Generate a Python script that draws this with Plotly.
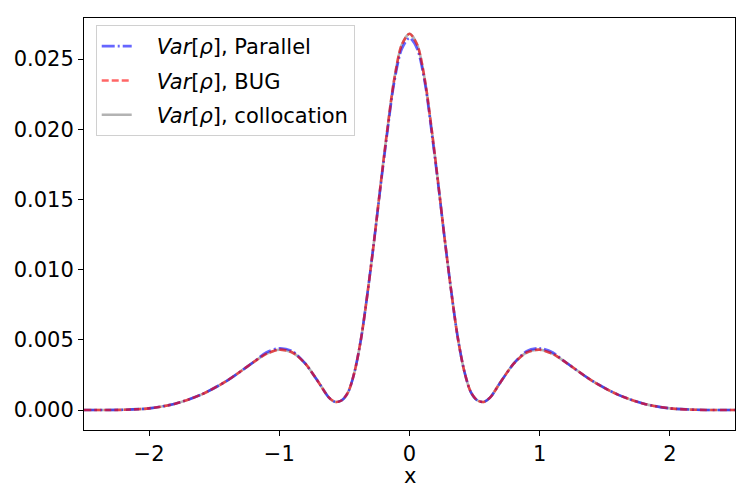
"""Variance of rho: Parallel vs BUG vs collocation."""

import plotly.graph_objects as go

x = [-2.5, -2.2, -2.0, -1.8, -1.6, -1.4, -1.2, -1.1, -1.0, -0.9, -0.8, -0.7,
     -0.62, -0.57, -0.52, -0.47, -0.42, -0.37, -0.32, -0.27, -0.22, -0.17, -0.12, -0.06,
     0.0,
     0.06, 0.12, 0.17, 0.22, 0.27, 0.32, 0.37, 0.42, 0.47, 0.52, 0.57,
     0.62, 0.7, 0.8, 0.9, 1.0, 1.1, 1.2, 1.4, 1.6, 1.8, 2.0, 2.2, 2.5]

var_collocation = [0.0, 0.00002, 0.00012, 0.00045, 0.0011, 0.0021, 0.0034, 0.0040, 0.0043, 0.0041,
                   0.0033, 0.0020, 0.0009, 0.00058, 0.0007, 0.0013, 0.0028, 0.0052, 0.0085, 0.0122,
                   0.0162, 0.0200, 0.0234, 0.0260,
                   0.0268,
                   0.0260, 0.0234, 0.0200, 0.0162, 0.0122, 0.0085, 0.0052, 0.0028, 0.0013, 0.0007,
                   0.00058, 0.0009, 0.0020, 0.0033, 0.0041, 0.0043, 0.0040, 0.0034, 0.0021, 0.0011,
                   0.00045, 0.00012, 0.00002, 0.0]

var_bug = list(var_collocation)

var_parallel = [0.0, 0.00002, 0.00012, 0.00045, 0.0011, 0.0021, 0.0034, 0.0041, 0.0044, 0.0042,
                0.0033, 0.0020, 0.0009, 0.00058, 0.0007, 0.0013, 0.0028, 0.0052, 0.0085, 0.0122,
                0.0161, 0.0198, 0.0232, 0.0257,
                0.0265,
                0.0257, 0.0232, 0.0198, 0.0161, 0.0122, 0.0085, 0.0052, 0.0028, 0.0013, 0.0007,
                0.00058, 0.0009, 0.0020, 0.0033, 0.0042, 0.0044, 0.0041, 0.0034, 0.0021, 0.0011,
                0.00045, 0.00012, 0.00002, 0.0]

y_ticks = [0.0, 0.005, 0.01, 0.015, 0.02, 0.025]
x_ticks = [-2, -1, 0, 1, 2]

label = "\u00a0\u00a0\u00a0<i>Var</i>[<i>ρ</i>], "
FONT = 21

fig = go.Figure()
fig.add_trace(go.Scatter(
    x=x, y=var_collocation, mode="lines", name=label + "collocation",
    line=dict(color="rgba(128,128,128,0.6)", width=2.6, shape="spline", smoothing=0.8),
    legendrank=3, legendgroup="c",
))
fig.add_trace(go.Scatter(
    x=x, y=var_parallel, mode="lines", name=label + "Parallel",
    line=dict(color="rgba(0,0,255,0.6)", width=2.6, dash="13px,3px,2px,3px",
              shape="spline", smoothing=0.8),
    legendrank=1, legendgroup="p",
))
fig.add_trace(go.Scatter(
    x=x, y=var_bug, mode="lines", name=label + "BUG",
    line=dict(color="rgba(255,0,0,0.6)", width=2.6, dash="7px,3px",
              shape="spline", smoothing=0.8),
    legendrank=2, legendgroup="b",
))

axis_style = dict(
    showline=True, linecolor="black", linewidth=1, mirror=True, automargin=False,
    ticks="outside", ticklen=5, tickcolor="black", showgrid=False, zeroline=False,
    tickfont=dict(family="DejaVu Sans", size=FONT, color="black"),
)

# page renders with an 8px body offset, so shrink the figure to fit the window
fig.update_layout(
    width=742, height=492,
    margin=dict(l=76, r=15, t=10, b=70),
    plot_bgcolor="white", paper_bgcolor="white",
    font=dict(family="DejaVu Sans", size=FONT, color="black"),
    xaxis=dict(range=[-2.5, 2.5], tickvals=x_ticks, ticktext=["−2", "−1", "0", "1", "2"],
               **axis_style),
    yaxis=dict(range=[-0.00142, 0.02792], tickvals=y_ticks, tickformat=".3f", **axis_style),
    legend=dict(x=0.018, y=0.983, xanchor="left", yanchor="top",
                bordercolor="#d0d0d0", borderwidth=1, bgcolor="rgba(255,255,255,0.8)",
                font=dict(size=FONT), tracegroupgap=4),
    showlegend=True,
    annotations=[dict(text="x", x=0.5, y=0, xref="paper", yref="paper",
                      yshift=-46, yanchor="middle", showarrow=False,
                      font=dict(size=FONT))],
)

fig.write_html("out.html")
